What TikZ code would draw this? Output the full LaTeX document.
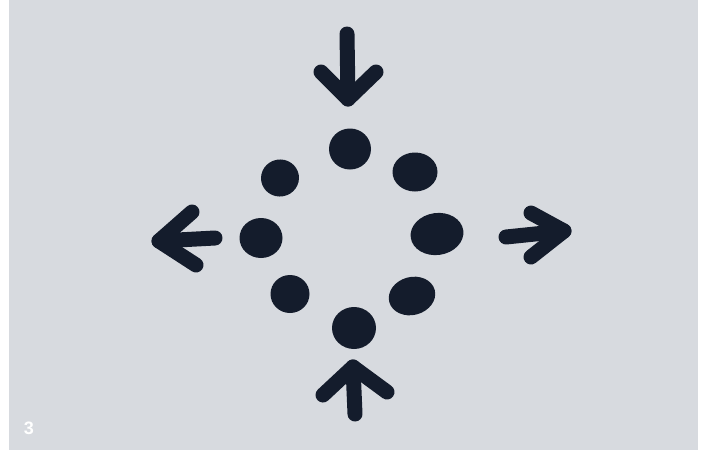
\documentclass[tikz,border=0pt]{standalone}
\usepackage{fontspec}
\setsansfont{Liberation Sans}
\usetikzlibrary{shapes.geometric}
\definecolor{bgpaper}{RGB}{215,218,223}
\definecolor{ink}{RGB}{20,28,44}
\tikzset{
  dot/.style={ellipse, fill=ink, inner sep=0pt},
  arrowstroke/.style={draw=ink, line width=15pt, line cap=round, line join=round},
}
\begin{document}
\begin{tikzpicture}[x=1pt,y=-1pt]
\useasboundingbox (0,0) rectangle (706,450);
\fill[white] (0,0) rectangle (706,450);
\fill[bgpaper] (9,0) rectangle (698,450);
% dots
\node[dot, minimum width=42pt, minimum height=41pt] (dtop) at (350,149) {};
\node[dot, minimum width=38pt, minimum height=37pt, rotate=10] (dul) at (280,178) {};
\node[dot, minimum width=45pt, minimum height=39pt] (dur) at (415,172) {};
\node[dot, minimum width=43pt, minimum height=40pt] (dl) at (261,238) {};
\node[dot, minimum width=53pt, minimum height=42pt, rotate=8] (dr) at (437,234) {};
\node[dot, minimum width=39pt, minimum height=38pt] (dll) at (290,294) {};
\node[dot, minimum width=47pt, minimum height=38pt, rotate=15] (dlr) at (412,296) {};
\node[dot, minimum width=44pt, minimum height=42pt] (dbot) at (354,328) {};
% top arrow
\coordinate (ta) at (347,34);
\coordinate (tt) at (348,99);
\coordinate (tl) at (321,72);
\coordinate (tr) at (376,72);
\draw[arrowstroke] (ta) -- (tt);
\draw[arrowstroke] (tl) -- (tt) -- (tr);
% left arrow
\coordinate (la) at (215,238);
\coordinate (lt) at (159,241);
\coordinate (lu) at (192,212);
\coordinate (ld) at (196,265);
\draw[arrowstroke] (la) -- (lt);
\draw[arrowstroke] (lu) -- (lt) -- (ld);
% right arrow
\coordinate (ra) at (506,237);
\coordinate (rt) at (564,231);
\coordinate (ru) at (531,213);
\coordinate (rd) at (531,257);
\draw[arrowstroke] (ra) -- (rt);
\draw[arrowstroke] (ru) -- (rt) -- (rd);
% bottom arrow
\coordinate (ba) at (355,414);
\coordinate (bt) at (353,367);
\coordinate (bl) at (323,395);
\coordinate (br) at (387,392);
\draw[arrowstroke] (ba) -- (bt);
\draw[arrowstroke] (bl) -- (bt) -- (br);
% label
\node[text=white, font=\sffamily\bfseries\fontsize{18}{18}\selectfont, inner sep=0pt] (lbl) at (29,428.5) {3};
\end{tikzpicture}
\end{document}
